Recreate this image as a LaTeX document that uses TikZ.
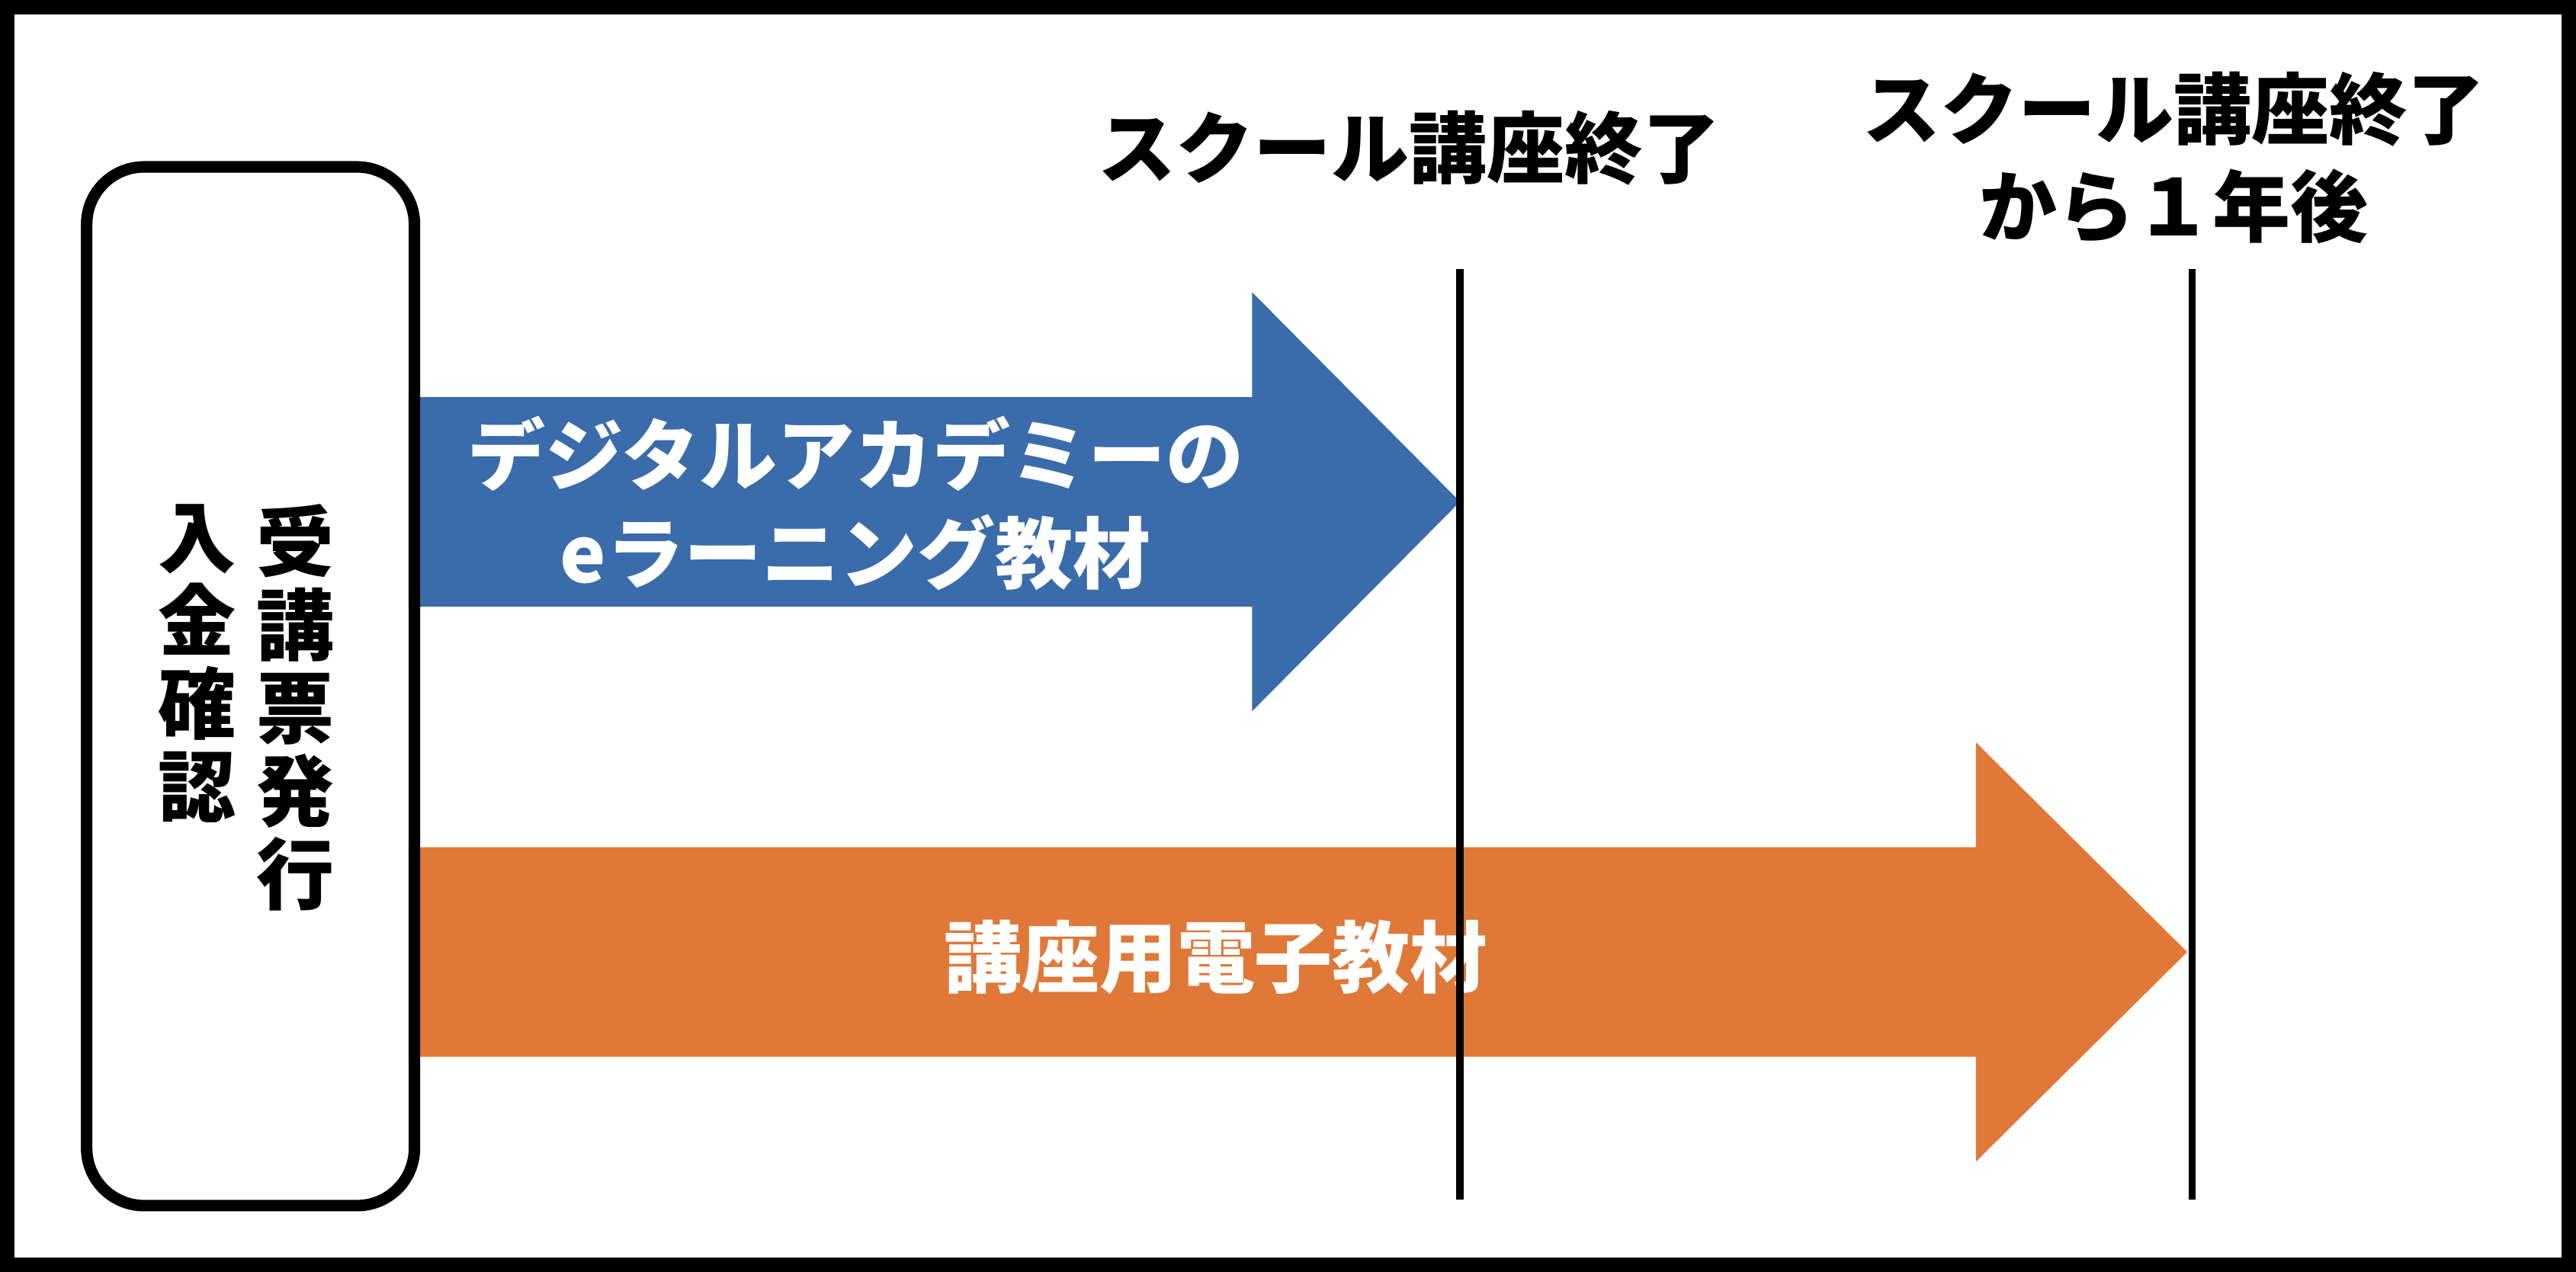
\documentclass[tikz,border=0pt]{standalone}
\usepackage{fontspec}
\setmainfont{Noto Sans CJK JP}
\usetikzlibrary{positioning}
\definecolor{arrowblue}{HTML}{3A6BAA}
\definecolor{arroworange}{HTML}{E07838}
\begin{document}
\begin{tikzpicture}[x=0.01cm, y=-0.01cm]
  \tikzstyle{label}=[font=\bfseries\fontsize{13.5}{17}\selectfont, align=center, inner sep=0pt]
  \tikzstyle{vtext}=[font=\bfseries\fontsize{13.5}{14.4}\selectfont, align=center, inner sep=0pt, anchor=north]
  \tikzstyle{endline}=[line width=1.3pt]

  % Rahmen
  \draw[line width=2.5pt] (2,2) rectangle (1566,770);
  \useasboundingbox (0,0) rectangle (1568,772);

  % Pfeile
  \fill[arrowblue] (247,240) -- (762,240) -- (762,176) -- (889,304) -- (762,432) -- (762,368) -- (247,368) -- cycle;
  \fill[arroworange] (247,515) -- (1204,515) -- (1204,451) -- (1333,579) -- (1204,707) -- (1204,643) -- (247,643) -- cycle;

  % Knoten
  \node[draw, line width=2pt, rounded corners=0.35cm, minimum width=2cm, minimum height=6.34cm, anchor=north west] (start) at (47,96) {};
  \node[vtext] (ticket) at (178,305) {受\\講\\票\\発\\行};
  \node[vtext] (payment) at (118,305) {入\\金\\確\\認};
  \node[label, text=white] (elearn) at (520,305) {デジタルアカデミーの\\eラーニング教材};
  \node[label, text=white] (ebook) at (740,582) {講座用電子教材};
  \node[label] (end) at (858,88) {スクール講座終了};
  \node[label] (later) at (1325,94) {スクール講座終了\\から１年後};

  % Linien
  \coordinate (e1) at (889,162); \coordinate (e2) at (889,730);
  \coordinate (l1) at (1336,162); \coordinate (l2) at (1336,730);
  \draw[endline] (e1) -- (e2);
  \draw[endline] (l1) -- (l2);
\end{tikzpicture}
\end{document}
